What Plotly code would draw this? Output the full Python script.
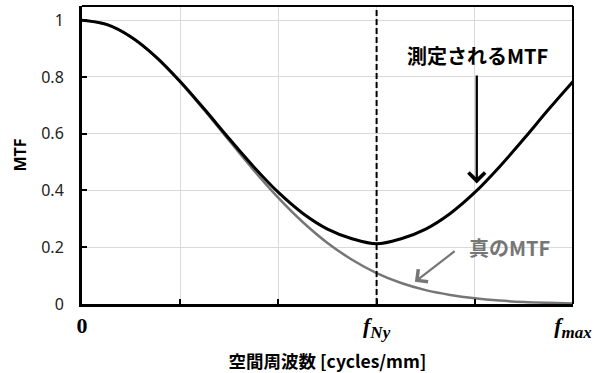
import plotly.graph_objects as go

# Spatial frequency in grid units (0 .. f_max), f_Ny sits at 3 of 5 divisions
freq = [0, 0.25, 0.5, 0.75, 1.0, 1.25, 1.5, 1.75, 2.0, 2.25, 2.5, 2.75,
        3.0, 3.25, 3.5, 3.75, 4.0, 4.25, 4.5, 4.75, 5.0]
# True (pre-sampling) MTF
mtf_true = [1.000, 0.985, 0.940, 0.871, 0.782, 0.681, 0.575, 0.471, 0.374,
            0.288, 0.215, 0.156, 0.109, 0.074, 0.049, 0.032, 0.020, 0.012,
            0.007, 0.004, 0.002]
# Measured MTF (including aliased component)
mtf_measured = [1.000, 0.985, 0.941, 0.872, 0.784, 0.685, 0.582, 0.483, 0.393,
                0.319, 0.264, 0.230, 0.212, 0.230, 0.264, 0.319, 0.393, 0.483,
                0.582, 0.685, 0.784]

F_NY = 3
F_MAX = 5
SUB = "<sub><span style='font-size:17px'><i>{}</i></span></sub>"
x_tickvals = [0, 1, 2, 3, 4, 5]
x_ticktext = ["<b>0</b>", "", "", "<b><i>f</i>" + SUB.format("Ny") + "</b>", "",
              "<b><i>f</i>" + SUB.format("max") + "</b>"]
y_tickvals = [0, 0.2, 0.4, 0.6, 0.8, 1.0]
y_ticktext = ["0", "0.2", "0.4", "0.6", "0.8", "1"]

JP = "Noto Sans CJK JP, Noto Sans, sans-serif"

fig = go.Figure()
fig.add_trace(go.Scatter(x=freq, y=mtf_true, mode="lines",
                         line=dict(color="#767676", width=2.5, shape="spline"),
                         showlegend=False, hoverinfo="skip"))
fig.add_trace(go.Scatter(x=freq, y=mtf_measured, mode="lines",
                         line=dict(color="black", width=3, shape="spline"),
                         showlegend=False, hoverinfo="skip"))

# Nyquist frequency marker
fig.add_shape(type="line", xref="x", yref="y", x0=F_NY, x1=F_NY, y0=0, y1=1.05,
              line=dict(color="black", width=2, dash="6px,3px"), layer="above")
# top and right frame edges
fig.add_shape(type="line", xref="paper", yref="paper", x0=0, x1=1, y0=1, y1=1,
              line=dict(color="black", width=2))
fig.add_shape(type="line", xref="paper", yref="paper", x0=1, x1=1, y0=0, y1=1,
              line=dict(color="black", width=2))

# labels and arrows
fig.add_annotation(x=4.03, y=0.875, xref="x", yref="y", text="<b>測定されるMTF</b>",
                   showarrow=False, font=dict(family=JP, size=20, color="black"))
fig.add_annotation(x=4.02, y=0.425, xref="x", yref="y", ax=4.02, ay=0.81,
                   axref="x", ayref="y", text="", showarrow=True,
                   arrowhead=4, arrowsize=1.4, arrowwidth=2.3, arrowcolor="black")
fig.add_annotation(x=4.35, y=0.2, xref="x", yref="y", text="<b>真のMTF</b>",
                   showarrow=False, font=dict(family=JP, size=20, color="#767676"))
fig.add_annotation(x=3.39, y=0.078, xref="x", yref="y", ax=3.81, ay=0.19,
                   axref="x", ayref="y", text="", showarrow=True,
                   arrowhead=4, arrowsize=1.4, arrowwidth=2.2, arrowcolor="#767676")

fig.update_layout(
    width=600, height=373,
    margin=dict(l=82, r=27, t=6, b=69),
    paper_bgcolor="white", plot_bgcolor="white",
    xaxis=dict(range=[0, F_MAX], tickvals=x_tickvals, ticktext=x_ticktext,
               automargin=False,
               showgrid=True, gridcolor="#d9d9d9", gridwidth=1,
               showline=True, linecolor="black", linewidth=3,
               ticks="inside", ticklen=5, tickwidth=2, tickcolor="black",
               tickfont=dict(family="Liberation Serif, serif", size=22, color="black"),
               title=dict(text="<b>空間周波数 [cycles/mm]</b>",
                          font=dict(family=JP, size=17.5, color="black"), standoff=15),
               zeroline=False),
    yaxis=dict(range=[0, 1.05], tickvals=y_tickvals, ticktext=y_ticktext,
               automargin=False,
               showgrid=True, gridcolor="#d9d9d9", gridwidth=1,
               showline=True, linecolor="black", linewidth=3,
               ticks="inside", ticklen=5, tickwidth=2, tickcolor="black",
               ticklabelstandoff=12,
               tickfont=dict(family="Noto Sans, sans-serif", size=16, color="#222"),
               title=dict(text="<b>MTF</b>",
                          font=dict(family="Noto Sans, sans-serif", size=16, color="black"),
                          standoff=11),
               zeroline=False),
)

fig.write_html("out.html")
